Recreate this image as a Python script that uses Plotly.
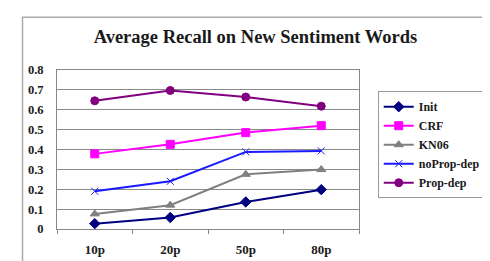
import plotly.graph_objects as go

categories = ["10p", "20p", "50p", "80p"]
init_vals = [0.027, 0.058, 0.136, 0.198]
crf_vals = [0.378, 0.426, 0.485, 0.52]
kn06_vals = [0.076, 0.12, 0.275, 0.299]
noprop_vals = [0.19, 0.24, 0.388, 0.393]
prop_vals = [0.645, 0.697, 0.664, 0.618]
y_ticks = [0, 0.1, 0.2, 0.3, 0.4, 0.5, 0.6, 0.7, 0.8]
y_tick_text = ["0", "0.1", "0.2", "0.3", "0.4", "0.5", "0.6", "0.7", "0.8"]

series = [
    ("Init", init_vals, "#000080", "diamond", 8),
    ("CRF", crf_vals, "#FF00FF", "square", 8),
    ("KN06", kn06_vals, "#808080", "triangle-up", 8),
    ("noProp-dep", noprop_vals, "#1a1aff", "x-thin", 7),
    ("Prop-dep", prop_vals, "#800080", "circle", 8),
]

fig = go.Figure()
for name, vals, color, sym, size in series:
    fig.add_trace(go.Scatter(
        x=categories, y=vals, name="<b>" + name + "</b>", mode="lines+markers",
        line=dict(color=color, width=2),
        marker=dict(symbol=sym, size=size, color=color,
                    line=dict(color=color, width=1)),
    ))

font_family = "Liberation Serif"
fig.update_layout(
    width=490, height=261,
    margin=dict(l=49, r=117, t=62, b=33),
    paper_bgcolor="white", plot_bgcolor="white",
    font=dict(family=font_family, size=12, color="black"),
    title=dict(text="<b>Average Recall on New Sentiment Words</b>",
               x=0.505, xanchor="center", xref="container",
               y=1 - 29 / 261, yanchor="middle", yref="container",
               font=dict(size=18.5, family=font_family, color="#1a1a1a")),
    showlegend=True,
    legend=dict(x=1.062, y=(228 - 140) / 166, xanchor="left", yanchor="middle",
                bordercolor="#999", borderwidth=1, bgcolor="white",
                font=dict(size=12, family=font_family, color="#1a1a1a"),
                itemwidth=30, tracegroupgap=0),
    xaxis=dict(type="category", range=[-0.5, 3.5],
               tickvals=categories, ticktext=["<b>" + c + "</b>" for c in categories],
               showline=True, linecolor="#888", linewidth=1, mirror=True,
               ticks="outside", tickson="boundaries", ticklen=4, tickcolor="#888",
               showgrid=False,
               tickfont=dict(size=13, family=font_family, color="#1a1a1a"),
               ticklabelstandoff=8),
    yaxis=dict(range=[0, 0.8], tickvals=y_ticks,
               ticktext=["<b>" + t + "</b>" for t in y_tick_text],
               showline=True, linecolor="#888", linewidth=1, mirror=True,
               showgrid=True, gridcolor="#8a8a8a", gridwidth=1,
               zeroline=False, ticks="",
               tickfont=dict(size=12.5, family=font_family, color="#1a1a1a"),
               ticklabelstandoff=10),
    shapes=[dict(type="rect", xref="paper", yref="paper",
                 x0=(12 - 49) / 324, x1=1.6, y0=-0.4, y1=(228 - 7) / 166,
                 line=dict(color="#aaa", width=1.5), layer="below")],
)

fig.write_html("out.html")
